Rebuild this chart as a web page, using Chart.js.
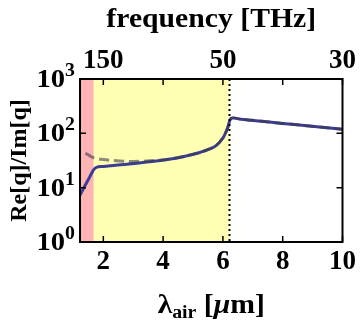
<!DOCTYPE html>
<html>
<head>
<meta charset="utf-8">
<script src="https://cdn.jsdelivr.net/npm/chart.js@4"></script>
<style>
  html, body { margin: 0; padding: 0; background: #fff; }
  #wrap { width: 360px; height: 322px; }
</style>
</head>
<body>
<div id="wrap"><canvas id="myChart" width="360" height="322"></canvas></div>
<script>
// wavelength in air [um]
var lambdaSolid = [1.22, 1.35, 1.49, 1.6, 1.68, 1.77, 2.0, 2.26, 2.7, 3.2, 3.7, 4.2, 4.7, 5.2, 5.5, 5.75, 6.0, 6.15, 6.28, 6.6, 7.1, 8.0, 8.8, 10]
var ratioSolid = [7.3, 10, 13.8, 18, 21.5, 23.7, 24.6, 25.4, 26.7, 28.5, 30.5, 33.3, 37.5, 44, 50, 58, 82, 122, 189, 182, 171, 152, 138, 119]

var lambdaDashed = [1.4, 1.55, 1.71, 2.0, 2.27, 2.8, 3.2, 3.7, 4.2, 4.7, 5.2, 5.5, 5.75, 6.0, 6.15, 6.28, 6.6, 7.1, 8.0, 8.8, 10]
var ratioDashed = [43, 38.5, 35, 33, 31.8, 30.5, 30.5, 31.5, 33.5, 37.7, 44, 50, 58, 82, 122, 189, 182, 171, 152, 138, 119]

// shaded bands [from, to] in um
var redBand = [1.22, 1.68]
var yellowBand = [1.68, 6.22]
var cutoffLambda = 6.22

var xTicks = [2, 4, 6, 8, 10]
var topTicks = [2, 4, 6, 8, 10]
var topTickLabels = ['150', '', '50', '', '30']
var yTicks = [1, 10, 100, 1000]
var yExponents = ['0', '1', '2', '3']

var serif = "'Liberation Serif', 'Times New Roman', serif"
var stretch = 1.1 // the original lettering is a bit wide

function toXY(xs, ys) {
    return xs.map(function (x, i) { return { x: x, y: ys[i] } })
}

// draws pieces [text, font, dy] one after another, centred on cx
function drawRun(ctx, parts, cx, baseY) {
    var total = 0
    parts.forEach(function (p) { ctx.font = p[1]; p.w = ctx.measureText(p[0]).width; total += p.w })
    ctx.save()
    ctx.translate(cx, baseY)
    ctx.scale(stretch, 1)
    ctx.textAlign = 'left'
    var sx = -total / 2
    parts.forEach(function (p) {
        ctx.font = p[1]
        ctx.fillText(p[0], sx, p[2])
        sx += p.w
    })
    ctx.restore()
}

var framePlugin = {
    id: 'frame',
    beforeDatasetsDraw: function (chart) {
        var ctx = chart.ctx, a = chart.chartArea
        var x = chart.scales.x
        ctx.save()
        ctx.fillStyle = '#FFB4B4'
        ctx.fillRect(x.getPixelForValue(redBand[0]), a.top, x.getPixelForValue(redBand[1]) - x.getPixelForValue(redBand[0]), a.bottom - a.top)
        ctx.fillStyle = '#FFFFB4'
        ctx.fillRect(x.getPixelForValue(yellowBand[0]), a.top, x.getPixelForValue(yellowBand[1]) - x.getPixelForValue(yellowBand[0]), a.bottom - a.top)
        ctx.restore()
    },
    afterDatasetsDraw: function (chart) {
        var ctx = chart.ctx, a = chart.chartArea
        var x = chart.scales.x, y = chart.scales.y
        ctx.save()
        // dotted cutoff line
        ctx.strokeStyle = '#000'
        ctx.lineWidth = 2
        ctx.setLineDash([2, 3])
        var cx = x.getPixelForValue(cutoffLambda)
        ctx.beginPath(); ctx.moveTo(cx, a.top); ctx.lineTo(cx, a.bottom); ctx.stroke()
        ctx.setLineDash([])
        // inward ticks
        ctx.lineWidth = 1.5
        ctx.beginPath()
        xTicks.forEach(function (v) {
            var px = x.getPixelForValue(v)
            ctx.moveTo(px, a.bottom); ctx.lineTo(px, a.bottom - 6)
        })
        topTicks.forEach(function (v) {
            var px = chart.scales.x2.getPixelForValue(v)
            ctx.moveTo(px, a.top); ctx.lineTo(px, a.top + 6)
        })
        yTicks.forEach(function (v) {
            var py = y.getPixelForValue(v)
            ctx.moveTo(a.left, py); ctx.lineTo(a.left + 6, py)
            ctx.moveTo(a.right, py); ctx.lineTo(a.right - 6, py)
        })
        ctx.stroke()
        // frame
        ctx.lineWidth = 2
        ctx.strokeRect(a.left, a.top, a.right - a.left, a.bottom - a.top)
        ctx.restore()
    },
    afterDraw: function (chart) {
        var ctx = chart.ctx, a = chart.chartArea
        var y = chart.scales.y
        ctx.save()
        ctx.fillStyle = '#000'
        ctx.textBaseline = 'alphabetic'
        // y tick labels 10^n, right edge at 75
        yTicks.forEach(function (v, i) {
            var py = y.getPixelForValue(v)
            ctx.save()
            ctx.translate(75, py)
            ctx.scale(stretch, 1)
            ctx.font = 'bold 18px ' + serif
            var sw = ctx.measureText(yExponents[i]).width
            ctx.textAlign = 'left'
            ctx.fillText(yExponents[i], -sw, -3)
            ctx.font = 'bold 26px ' + serif
            ctx.textAlign = 'right'
            ctx.fillText('10', -sw, 8)
            ctx.restore()
        })
        var cx = (a.left + a.right) / 2
        // top title
        drawRun(ctx, [['frequency [THz]', 'bold 27px ' + serif, 0]], cx, 27)
        // bottom title: lambda_air [um]
        drawRun(ctx, [
            ['λ', 'bold 27px ' + serif, 0],
            ['air', 'bold 18px ' + serif, 5],
            [' [', 'bold 27px ' + serif, 0],
            ['μ', 'bold italic 27px ' + serif, 0],
            ['m]', 'bold 27px ' + serif, 0]
        ], cx, 313)
        // y title
        ctx.translate(26, (a.top + a.bottom) / 2)
        ctx.rotate(-Math.PI / 2)
        ctx.font = 'bold 24px ' + serif
        ctx.textAlign = 'center'
        ctx.fillText('Re[q]/Im[q]', 0, 0)
        ctx.restore()
    }
}

chart = new Chart('myChart', {
    type: 'scatter',
    data: {
        datasets: [{
            label: 'dashed',
            data: toXY(lambdaDashed, ratioDashed),
            showLine: true,
            borderColor: 'rgba(60,60,80,0.6)',
            borderWidth: 3,
            borderDash: [10, 5],
            pointRadius: 0,
            tension: 0.3
        }, {
            label: 'solid',
            data: toXY(lambdaSolid, ratioSolid),
            showLine: true,
            borderColor: '#3C3C96',
            borderWidth: 3,
            pointRadius: 0,
            tension: 0.3
        }]
    },
    plugins: [framePlugin],
    options: {
        responsive: false,
        animation: false,
        events: [],
        layout: { padding: { left: 0, right: 16, top: 0, bottom: 0 } },
        plugins: { legend: { display: false }, tooltip: { enabled: false } },
        scales: {
            x: {
                type: 'linear', position: 'bottom', min: 1.22, max: 10,
                afterFit: function (s) { s.height = 80 },
                afterBuildTicks: function (s) { s.ticks = xTicks.map(function (v) { return { value: v } }) },
                grid: { display: false, drawTicks: false },
                border: { display: false },
                ticks: {
                    autoSkip: false, maxRotation: 0, padding: 4, color: '#000',
                    font: { family: serif, size: 27, weight: 'bold' }
                }
            },
            x2: {
                type: 'linear', position: 'top', min: 1.22, max: 10,
                afterFit: function (s) { s.height = 79 },
                afterBuildTicks: function (s) { s.ticks = topTicks.map(function (v) { return { value: v } }) },
                grid: { display: false, drawTicks: false },
                border: { display: false },
                ticks: {
                    autoSkip: false, maxRotation: 0, padding: 2, color: '#000',
                    font: { family: serif, size: 27, weight: 'bold' },
                    callback: function (v, i) { return topTickLabels[i] }
                }
            },
            y: {
                type: 'logarithmic', min: 1, max: 1000,
                afterFit: function (s) { s.width = 80 },
                grid: { display: false, drawTicks: false },
                border: { display: false },
                ticks: { display: false }
            }
        }
    }
});
</script>
</body>
</html>
